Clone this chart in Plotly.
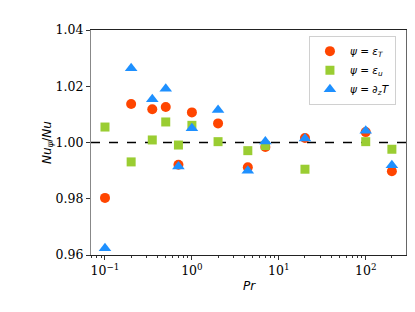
import plotly.graph_objects as go

pr = [0.1, 0.2, 0.35, 0.5, 0.7, 1, 2, 4.4, 7, 20, 100, 200]
nu_epsT = [0.9803, 1.0137, 1.0118, 1.0126, 0.9921, 1.0107, 1.0068, 0.9912, 0.9984, 1.0016, 1.0037, 0.9898]
nu_epsU = [1.0055, 0.9931, 1.0009, 1.0073, 0.9991, 1.0061, 1.0003, 0.9971, 0.9989, 0.9905, 1.0003, 0.9976]
nu_dzT = [0.9624, 1.0264, 1.0154, 1.0191, 0.9915, 1.0051, 1.0116, 0.9900, 1.0004, 1.0014, 1.0042, 0.9919]

x_tickvals = [0.1, 1, 10, 100]
x_ticktext = ["10<sup>−1</sup>", "10<sup>0</sup>", "10<sup>1</sup>", "10<sup>2</sup>"]
y_tickvals = [0.96, 0.98, 1.00, 1.02, 1.04]
y_ticktext = ["0.96", "0.98", "1.00", "1.02", "1.04"]
ref_level = 1.0

minor_vals = []
for d in [0.01, 0.1, 1, 10, 100]:
    for k in range(2, 10):
        minor_vals.append(k * d)

fig = go.Figure()
fig.add_trace(go.Scatter(x=pr, y=nu_epsT, mode="markers", name="<i>ψ</i> = <i>ε<sub>T</sub></i>",
                         marker=dict(symbol="circle", size=10, color="#FF4500")))
fig.add_trace(go.Scatter(x=pr, y=nu_epsU, mode="markers", name="<i>ψ</i> = <i>ε<sub>u</sub></i>",
                         marker=dict(symbol="square", size=9, color="#9ACD32")))
fig.add_trace(go.Scatter(x=pr, y=nu_dzT, mode="markers", name="<i>ψ</i> = ∂<sub><i>z</i></sub><i>T</i>",
                         marker=dict(symbol="triangle-up", size=11, color="#1E90FF")))

fig.add_shape(type="line", xref="paper", x0=0, x1=1, yref="y", y0=ref_level, y1=ref_level,
              line=dict(color="black", width=1.5, dash="dash"), layer="below")
fig.add_shape(type="line", xref="paper", x0=1, x1=1, yref="paper", y0=0, y1=1,
              line=dict(color="black", width=1.2))

fig.update_layout(
    width=415, height=312,
    margin=dict(l=83, r=16, t=22, b=65),
    plot_bgcolor="white", paper_bgcolor="white",
    showlegend=True,
    legend=dict(x=0.965, y=0.975, xanchor="right", yanchor="top",
                bgcolor="rgba(255,255,255,0.9)", bordercolor="#d0d0d0", borderwidth=1,
                font=dict(family="DejaVu Sans", size=10.5, color="black"),
                itemwidth=30, tracegroupgap=0),
    font=dict(family="DejaVu Serif", size=12, color="black"),
)
fig.update_xaxes(type="log", range=[-1.161, 2.475],
                 tickvals=x_tickvals, ticktext=x_ticktext, ticks="outside", ticklen=4,
                 tickcolor="#333", showgrid=False, zeroline=False,
                 showline=True, linecolor="#222", linewidth=1.2, mirror=True,
                 minor=dict(tickvals=minor_vals, ticks="outside", ticklen=2, tickcolor="#333", showgrid=False),
                 tickfont=dict(family="DejaVu Serif", size=12.5),
                 title=dict(text="<i>Pr</i>", font=dict(family="DejaVu Sans", size=12), standoff=4))
fig.update_yaxes(range=[0.96, 1.04], tickvals=y_tickvals, ticktext=y_ticktext,
                 ticks="outside", ticklen=4, tickcolor="#333", showgrid=False, zeroline=False,
                 showline=True, linecolor="#888", linewidth=1.2,
                 tickfont=dict(family="DejaVu Serif", size=12.5),
                 title=dict(text="<i>Nu<sub>ψ</sub></i>/<i>Nu</i>", font=dict(family="DejaVu Sans", size=12), standoff=1))

fig.write_html("out.html")
